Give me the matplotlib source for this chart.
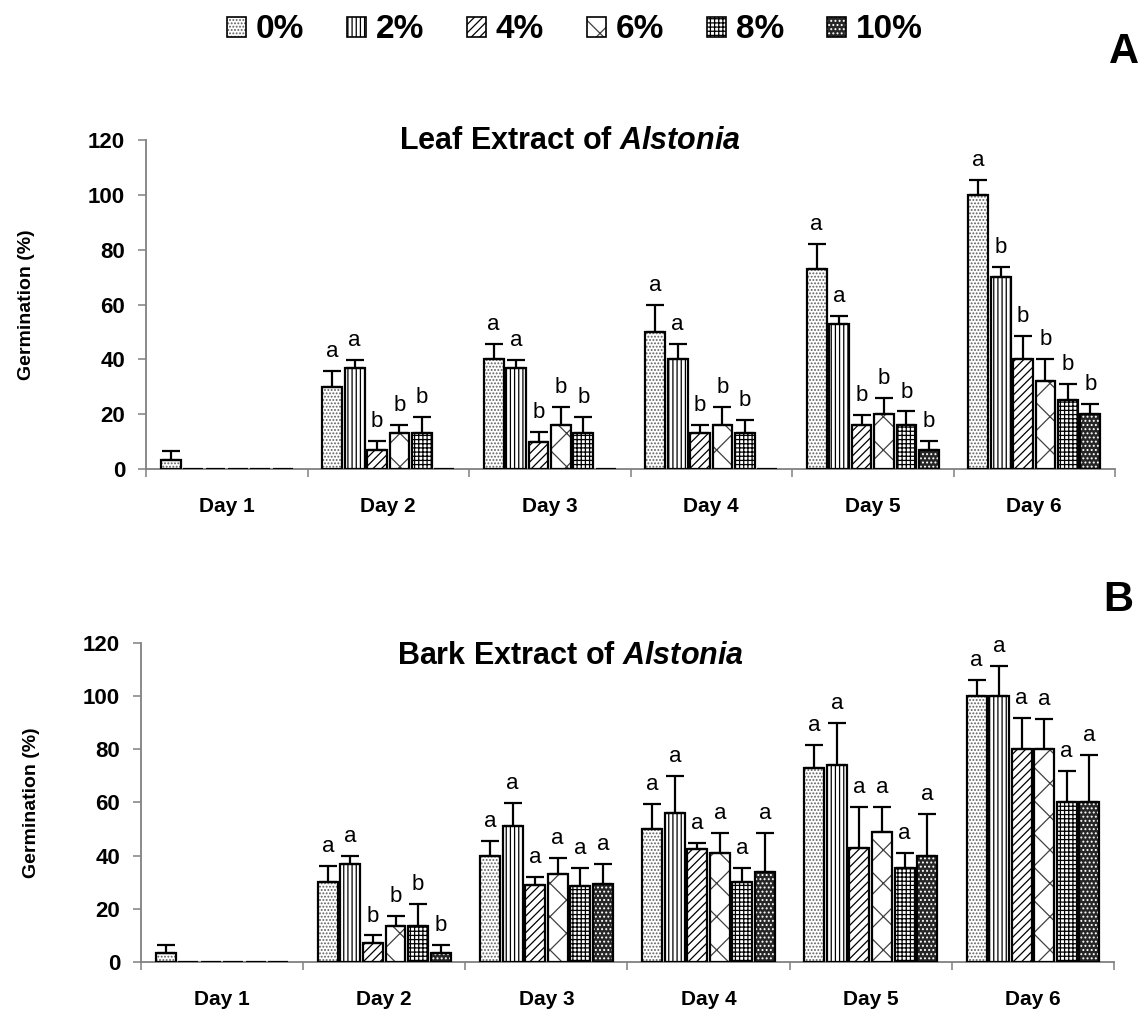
'''Germination (%) of seeds under leaf and bark extracts of Alstonia
'''

import numpy as np
import matplotlib
matplotlib.use('Agg')
import matplotlib.pyplot as plt  # noqa E402
from matplotlib.patches import Patch  # noqa E402

plt.rcParams['font.family'] = ['Liberation Sans', 'DejaVu Sans']
plt.rcParams['mathtext.fontset'] = 'custom'
plt.rcParams['mathtext.bfit'] = 'Liberation Sans:bold:italic'
plt.rcParams['mathtext.it'] = 'Liberation Sans:italic'
plt.rcParams['hatch.linewidth'] = 0.9

days = ['Day 1', 'Day 2', 'Day 3', 'Day 4', 'Day 5', 'Day 6']
conc = ['0%', '2%', '4%', '6%', '8%', '10%']

# rows = days, columns = concentrations
leaf_mean = [[3.3, 0, 0, 0, 0, 0],
             [30, 37, 7, 13, 13, 0],
             [40, 37, 10, 16, 13, 0],
             [50, 40, 13, 16, 13, 0],
             [73, 53, 16, 20, 16, 7],
             [100, 70, 40, 32, 25, 20]]
leaf_err = [[3.3, 0, 0, 0, 0, 0],
            [5.8, 2.7, 3.4, 3, 6, 0],
            [5.7, 2.7, 3.6, 6.7, 6, 0],
            [10, 5.5, 3, 6.7, 5, 0],
            [9, 2.8, 3.7, 6, 5, 3.4],
            [5.5, 3.6, 8.5, 8, 6, 3.6]]
leaf_letters = [['', '', '', '', '', ''],
                ['a', 'a', 'b', 'b', 'b', ''],
                ['a', 'a', 'b', 'b', 'b', ''],
                ['a', 'a', 'b', 'b', 'b', ''],
                ['a', 'a', 'b', 'b', 'b', 'b'],
                ['a', 'b', 'b', 'b', 'b', 'b']]

bark_mean = [[3.3, 0, 0, 0, 0, 0],
             [30, 37, 7, 13.5, 13.5, 3.3],
             [40, 51, 29, 33, 28.5, 29.5],
             [50, 56, 42.5, 41, 30, 34],
             [73, 74, 42.8, 48.8, 35.5, 40],
             [100, 100, 80, 80, 60, 60]]
bark_err = [[3, 0, 0, 0, 0, 0],
            [6, 3, 3, 4, 8.5, 3],
            [5.6, 8.7, 3, 6.3, 7, 7.3],
            [9.6, 14, 2.4, 7.7, 5.5, 14.6],
            [8.5, 16, 15.4, 9.4, 5.4, 15.7],
            [6.2, 11.4, 11.8, 11.3, 11.7, 17.9]]
bark_letters = [['', '', '', '', '', ''],
                ['a', 'a', 'b', 'b', 'b', 'b'],
                ['a', 'a', 'a', 'a', 'a', 'a'],
                ['a', 'a', 'a', 'a', 'a', 'a'],
                ['a', 'a', 'a', 'a', 'a', 'a'],
                ['a', 'a', 'a', 'a', 'a', 'a']]

# (face colour, hatch, hatch colour) per concentration
styles = [('white', '.....', '#606060'),
          ('white', '||||', 'black'),
          ('white', '////', 'black'),
          ('white', 'x', '#404040'),
          ('white', '++++', 'black'),
          ('#262626', '....', 'white')]

GRAY = '#808080'
STEP = 0.139
WIDTH = 0.123


def draw_panel(ax, means, errs, letters, ylabel_x):
    means = np.array(means, dtype=float)
    errs = np.array(errs, dtype=float)
    centers = np.arange(len(days)) + 0.5
    for j, (fc, hatch, hc) in enumerate(styles):
        x = centers + (j - 2.5) * STEP
        ax.bar(x, means[:, j], WIDTH, facecolor=fc, hatch=hatch,
               edgecolor=hc, linewidth=0, zorder=2)
        ax.bar(x, means[:, j], WIDTH, fill=False, edgecolor='black',
               linewidth=1.6, zorder=3)
        has = errs[:, j] > 0
        ax.errorbar(x[has], means[has, j],
                    yerr=[np.zeros(has.sum()), errs[has, j]],
                    fmt='none', ecolor='black', elinewidth=1.6,
                    capsize=6.5, capthick=1.6, zorder=4)
        for i in range(len(days)):
            if letters[i][j]:
                ax.annotate(letters[i][j], (x[i], means[i, j] + errs[i, j]),
                            xytext=(0, 10), textcoords='offset points',
                            ha='center', va='baseline', fontsize=16,
                            annotation_clip=False)

    ax.set_xlim(0, len(days))
    ax.set_ylim(0, 120)
    ax.set_yticks(np.arange(0, 121, 20))
    ax.set_xticks(np.arange(len(days) + 1))
    ax.set_xticklabels([])
    ax.set_xticks(centers, minor=True)
    ax.set_xticklabels(days, minor=True, fontsize=15, fontweight='bold')
    ax.tick_params(axis='x', which='minor', length=0, pad=20)
    ax.tick_params(axis='x', which='major', length=6, width=1.1,
                   color=GRAY, direction='out')
    ax.tick_params(axis='y', length=6, width=1.1, color=GRAY, pad=9,
                   labelsize=16)
    for lab in ax.get_yticklabels():
        lab.set_fontweight('bold')
    for side in ['top', 'right']:
        ax.spines[side].set_visible(False)
    for side in ['left', 'bottom']:
        ax.spines[side].set_color(GRAY)
        ax.spines[side].set_linewidth(1.3)
    ax.set_ylabel('Germination (%)', fontsize=14, fontweight='bold')
    ax.yaxis.set_label_coords(ylabel_x, 0.5)


fig = plt.figure(figsize=(11.38, 10.13), dpi=100)
ax_leaf = fig.add_axes([0.1283, 0.537, 0.8515, 0.3248])
ax_bark = fig.add_axes([0.1239, 0.0503, 0.855, 0.315])

draw_panel(ax_leaf, leaf_mean, leaf_err, leaf_letters, -0.1146)
draw_panel(ax_bark, bark_mean, bark_err, bark_letters, -0.104)

fig.text(0.501, 1 - 141 / 1013, r'Leaf Extract of $\mathbfit{Alstonia}$',
         ha='center', va='center', fontsize=22, fontweight='bold')
fig.text(0.501, 1 - 656 / 1013, r'Bark Extract of $\mathbfit{Alstonia}$',
         ha='center', va='center', fontsize=22, fontweight='bold')

fig.text(1124 / 1138, 1 - 52 / 1013, 'A', ha='center', va='center',
         fontsize=30, fontweight='bold')
fig.text(1118 / 1138, 1 - 600 / 1013, 'B', ha='center', va='center',
         fontsize=30, fontweight='bold')

handles = []
for fc, hatch, hc in styles:
    handles.append((Patch(facecolor=fc, hatch=hatch, edgecolor=hc, linewidth=0),
                    Patch(fill=False, edgecolor='black', linewidth=1.2)))
fig.legend(handles, conc, loc='center', ncol=6, frameon=False,
           bbox_to_anchor=(575 / 1138, 1 - 30 / 1013),
           prop={'size': 24, 'weight': 'bold'},
           handlelength=0.55, handleheight=0.55, handletextpad=0.3,
           columnspacing=1.3)

fig.savefig('out.png', dpi=100)
plt.close(fig)
